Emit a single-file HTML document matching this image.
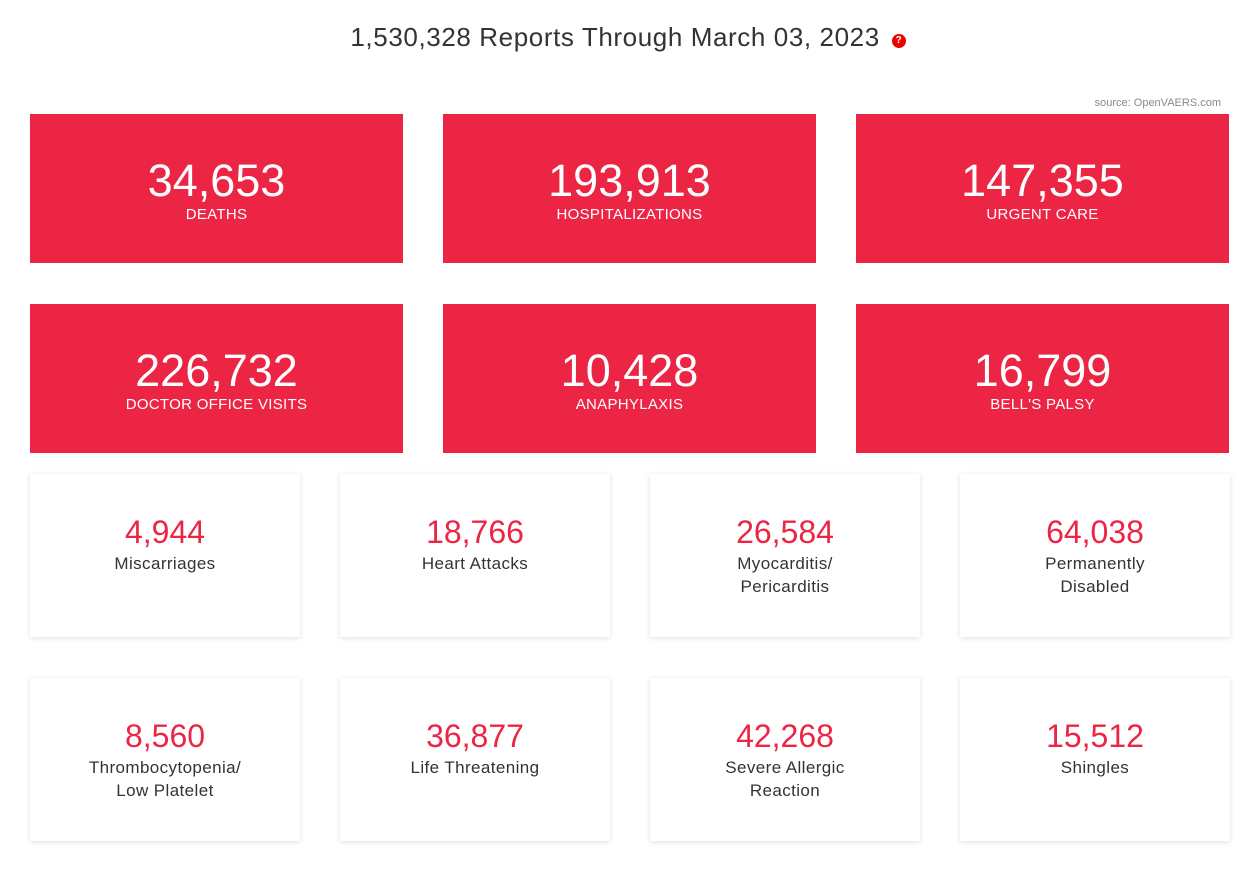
<!DOCTYPE html>
<html><head><meta charset="utf-8"><style>
body{margin:0;width:1256px;height:869px;background:#fff;font-family:"Liberation Sans",sans-serif;position:relative;overflow:hidden}
.title{position:absolute;top:22px;left:0;width:1256px;text-align:center;font-size:26px;letter-spacing:0.6px;color:#333}
.q{display:inline-block;width:14px;height:14px;border-radius:50%;background:#e00;color:#fff;font-size:10px;font-weight:bold;line-height:14px;text-align:center;vertical-align:middle;margin-left:4px;letter-spacing:0;position:relative;top:2px}
.src{position:absolute;top:97px;right:35px;font-size:11px;color:#888}
.red{position:absolute;width:373px;height:149px;background:#EC2545;color:#fff;text-align:center}
.red .n{position:absolute;top:42px;width:100%;font-size:45px;line-height:50px}
.red .l{position:absolute;top:92px;width:100%;font-size:15px;letter-spacing:0.3px}
.wh{position:absolute;width:270px;height:163px;background:#fff;box-shadow:0 1px 5px rgba(0,0,0,0.13);text-align:center}
.wh .n{position:absolute;top:40px;width:100%;font-size:32px;color:#EC2545;line-height:36px}
.wh .l{position:absolute;top:78px;width:100%;font-size:17px;letter-spacing:0.4px;color:#333;line-height:23px}
</style></head><body>
<div class="title">1,530,328 Reports Through March 03, 2023 <span class="q">?</span></div>
<div class="src">source: OpenVAERS.com</div>

<div class="red" style="left:30px;top:114px"><div class="n">34,653</div><div class="l">DEATHS</div></div>
<div class="red" style="left:443px;top:114px"><div class="n">193,913</div><div class="l">HOSPITALIZATIONS</div></div>
<div class="red" style="left:856px;top:114px"><div class="n">147,355</div><div class="l">URGENT CARE</div></div>
<div class="red" style="left:30px;top:304px"><div class="n">226,732</div><div class="l">DOCTOR OFFICE VISITS</div></div>
<div class="red" style="left:443px;top:304px"><div class="n">10,428</div><div class="l">ANAPHYLAXIS</div></div>
<div class="red" style="left:856px;top:304px"><div class="n">16,799</div><div class="l">BELL'S PALSY</div></div>

<div class="wh" style="left:30px;top:474px"><div class="n">4,944</div><div class="l">Miscarriages</div></div>
<div class="wh" style="left:340px;top:474px"><div class="n">18,766</div><div class="l">Heart Attacks</div></div>
<div class="wh" style="left:650px;top:474px"><div class="n">26,584</div><div class="l">Myocarditis/<br>Pericarditis</div></div>
<div class="wh" style="left:960px;top:474px"><div class="n">64,038</div><div class="l">Permanently<br>Disabled</div></div>
<div class="wh" style="left:30px;top:678px"><div class="n">8,560</div><div class="l">Thrombocytopenia/<br>Low Platelet</div></div>
<div class="wh" style="left:340px;top:678px"><div class="n">36,877</div><div class="l">Life Threatening</div></div>
<div class="wh" style="left:650px;top:678px"><div class="n">42,268</div><div class="l">Severe Allergic<br>Reaction</div></div>
<div class="wh" style="left:960px;top:678px"><div class="n">15,512</div><div class="l">Shingles</div></div>
</body></html>
